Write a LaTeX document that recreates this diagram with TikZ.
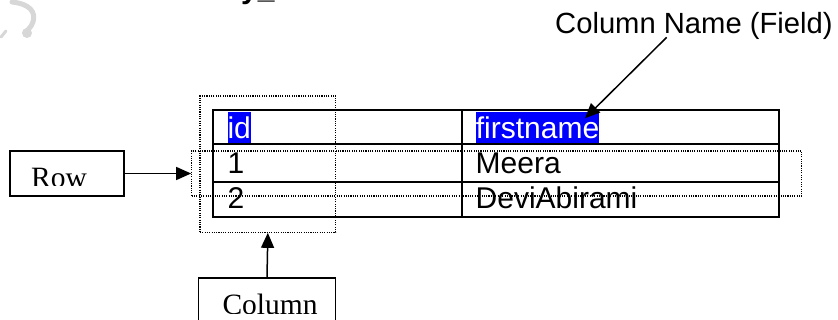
\documentclass[tikz,border=0pt]{standalone}
\usepackage{fontspec}
\setmainfont{Liberation Sans}
\newfontfamily\serifbox{Liberation Serif}
\usetikzlibrary{arrows.meta}
\definecolor{hlblue}{RGB}{0,0,255}
\definecolor{wmgrey}{RGB}{215,215,215}
\tikzset{
  tbl/.style={line width=2.3pt},
  dotbox/.style={draw, line width=1.1pt, dash pattern=on 1.1pt off 1.2pt, rectangle, inner sep=0pt},
  lblbox/.style={draw, line width=1.5pt, rectangle, inner sep=0pt},
  cell/.style={anchor=base west, inner sep=0pt, font=\fontsize{30}{32}\selectfont},
  hl/.style={cell, fill=hlblue, text=white, text height=26.5pt, text depth=5pt},
  serifl/.style={anchor=base west, inner sep=0pt, font=\serifbox\fontsize{29.5}{31}\selectfont},
  pointer/.style={line width=1.5pt, -{Triangle[length=15pt,width=13pt]}},
}
\begin{document}
\begin{tikzpicture}[x=1pt,y=-1pt]
\useasboundingbox (0,0) rectangle (838,320);
\begin{scope}
\clip (0,0) rectangle (838,320);
% watermark fragment
\draw[wmgrey, line width=5pt, line cap=round] (12,2) .. controls (30,4) and (36,12) .. (33,22) .. controls (31,28) and (27,30) .. (25,33);
\fill[wmgrey] (27,33) circle (5pt);
\draw[wmgrey, line width=3pt, line cap=round] (1,37) -- (6,31);
% cropped heading fragment
\node[anchor=base west, inner sep=0pt, font=\bfseries\fontsize{30}{32}\selectfont] (head) at (241,-1) {y\_};
\end{scope}

% table
\draw[tbl] (213.3,110) rectangle (779,216.7);
\draw[tbl] (213.3,144.3) -- (779,144.3);
\draw[tbl] (213.3,181.7) -- (779,181.7);
\draw[tbl] (462.3,110) -- (462.3,216.7);

\node[hl] (hid) at (227.3,138.3) {id};
\node[hl] (hfirst) at (475.7,138.3) {firstname};
\node[cell] (c1) at (227.3,173.3) {1};
\node[cell] (cmeera) at (475.5,173.3) {Meera};
\node[cell] (c2) at (227.3,208.5) {2};
\node[cell] (cdevi) at (475.5,208.5) {DeviAbirami};

% dotted selection boxes
\node[dotbox, minimum width=135.7pt, minimum height=136.3pt] (colsel) at (267.85,164.15) {};
\node[dotbox, minimum width=610pt, minimum height=45pt] (rowsel) at (496.7,173.5) {};

% label boxes
\node[lblbox, minimum width=114pt, minimum height=45pt] (rowlbl) at (67,173.5) {};
\begin{scope}
\clip (10,150) rectangle (124,185.7);
\node[serifl] (rowtxt) at (31,187.2) {Row};
\end{scope}

\node[lblbox, minimum width=137.4pt, minimum height=60pt, anchor=north] (collbl) at (267,277.3) {};
\begin{scope}
\clip (198,277) rectangle (336,313.3);
\node[serifl] (coltxt) at (222.3,314.2) {Column};
\end{scope}

\node[anchor=base west, inner sep=0pt, font=\fontsize{29.2}{31}\selectfont] (cname) at (555,33.3) {Column Name (Field)};
\coordinate (cnstart) at (666.7,37.3);
\coordinate (cntip) at (585,118.3);

% connectors
\draw[pointer] (rowlbl.east) -- (rowsel.west);
\draw[pointer] (collbl.north) -- (colsel.south);
\draw[pointer] (cnstart) -- (cntip);
\end{tikzpicture}
\end{document}
